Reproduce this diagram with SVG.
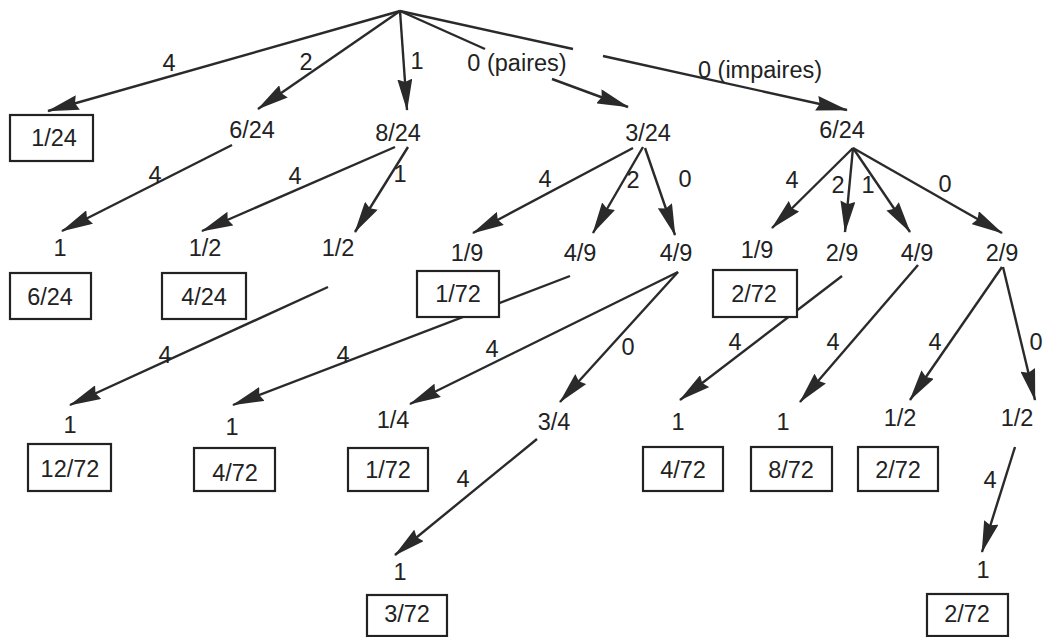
<svg xmlns="http://www.w3.org/2000/svg" width="1063" height="637" viewBox="0 0 1063 637">
<style>
text{font-family:"Liberation Sans",Arial,sans-serif;font-size:23.5px;fill:#222;text-anchor:middle}
.e{stroke:#2a2a2a;stroke-width:2.4;fill:none}
.a{marker-end:url(#ah)}
.b{fill:#fff;stroke:#222;stroke-width:2.2}
</style>
<defs>
<marker id="ah" viewBox="0 0 32 15" refX="31" refY="7.5" markerWidth="32" markerHeight="15" markerUnits="userSpaceOnUse" orient="auto">
<path d="M0,0 L32,7.5 L0,15 L3,7.5 z" fill="#2a2a2a"/>
</marker>
</defs>
<rect width="1063" height="637" fill="#fff"/>
<g id="connectors">
<line class="e a" x1="400" y1="11" x2="48" y2="111"/>
<line class="e a" x1="400" y1="11" x2="258" y2="109"/>
<line class="e a" x1="400" y1="11" x2="407" y2="110"/>
<line class="e" x1="400" y1="11" x2="485" y2="49"/>
<line class="e a" x1="552" y1="79" x2="628" y2="107"/>
<line class="e" x1="400" y1="11" x2="573" y2="49"/>
<line class="e a" x1="603" y1="56" x2="847" y2="110"/>
<line class="e a" x1="232" y1="145" x2="62" y2="231"/>
<line class="e a" x1="395" y1="147" x2="202" y2="231"/>
<line class="e a" x1="408" y1="147" x2="355" y2="232"/>
<line class="e a" x1="328" y1="287" x2="70" y2="405"/>
<line class="e a" x1="633" y1="148" x2="473" y2="233"/>
<line class="e a" x1="643" y1="147" x2="593" y2="233"/>
<line class="e a" x1="645" y1="148" x2="675" y2="235"/>
<line class="e a" x1="570" y1="276" x2="233" y2="405"/>
<line class="e a" x1="678" y1="272" x2="410" y2="404"/>
<line class="e a" x1="678" y1="272" x2="560" y2="402"/>
<line class="e a" x1="537" y1="439" x2="395" y2="555"/>
<line class="e a" x1="853" y1="148" x2="772" y2="228"/>
<line class="e a" x1="853" y1="148" x2="845" y2="232"/>
<line class="e a" x1="853" y1="148" x2="910" y2="232"/>
<line class="e a" x1="853" y1="148" x2="1002" y2="233"/>
<line class="e a" x1="842" y1="276" x2="680" y2="400"/>
<line class="e a" x1="918" y1="265" x2="800" y2="402"/>
<line class="e a" x1="1002" y1="267" x2="910" y2="400"/>
<line class="e a" x1="1003" y1="267" x2="1035" y2="400"/>
<line class="e a" x1="1015" y1="447" x2="982" y2="552"/>
<g id="edge-labels">
<text x="169" y="71">4</text>
<text x="306" y="70">2</text>
<text x="417" y="69">1</text>
<text x="517" y="71">0 (paires)</text>
<text x="760" y="78">0 (impaires)</text>
<text x="155" y="183">4</text>
<text x="295" y="184">4</text>
<text x="400" y="182">1</text>
<text x="545" y="187">4</text>
<text x="633" y="188">2</text>
<text x="685" y="187">0</text>
<text x="792" y="188">4</text>
<text x="838" y="193">2</text>
<text x="868" y="193">1</text>
<text x="945" y="192">0</text>
<text x="165" y="363">4</text>
<text x="343" y="363">4</text>
<text x="492" y="357">4</text>
<text x="628" y="355">0</text>
<text x="735" y="350">4</text>
<text x="833" y="350">4</text>
<text x="935" y="350">4</text>
<text x="1036" y="350">0</text>
<text x="463" y="487">4</text>
<text x="990" y="488">4</text>
</g>
</g>
<g id="n-1-24"><rect class="b" x="10" y="115" width="83" height="46"/><text x="54" y="146">1/24</text></g>
<g id="n-6-24a"><text x="252" y="138">6/24</text></g>
<g id="n-8-24"><text x="398" y="141">8/24</text></g>
<g id="n-3-24"><text x="648" y="141">3/24</text></g>
<g id="n-6-24b"><text x="842" y="138">6/24</text></g>
<g id="n-a1"><text x="60" y="256">1</text></g>
<g id="n-a1-box"><rect class="b" x="10" y="273" width="81" height="46"/><text x="50" y="305">6/24</text></g>
<g id="n-b12"><text x="205" y="256">1/2</text></g>
<g id="n-b12-box"><rect class="b" x="162" y="273" width="84" height="46"/><text x="204" y="305">4/24</text></g>
<g id="n-c12"><text x="338" y="256">1/2</text></g>
<g id="n-d19"><text x="467" y="261">1/9</text></g>
<g id="n-d19-box"><rect class="b" x="417" y="271" width="82" height="46"/><text x="458" y="302">1/72</text></g>
<g id="n-e49"><text x="580" y="261">4/9</text></g>
<g id="n-f49"><text x="676" y="261">4/9</text></g>
<g id="n-g19"><text x="757" y="258">1/9</text></g>
<g id="n-g19-box"><rect class="b" x="713" y="270" width="84" height="47"/><text x="754" y="302">2/72</text></g>
<g id="n-h29"><text x="842" y="261">2/9</text></g>
<g id="n-i49"><text x="917" y="261">4/9</text></g>
<g id="n-j29"><text x="1002" y="261">2/9</text></g>
<g id="n-c1"><text x="70" y="433">1</text></g>
<g id="n-c1-box"><rect class="b" x="28" y="444" width="83" height="47"/><text x="70" y="477">12/72</text></g>
<g id="n-e1"><text x="232" y="435">1</text></g>
<g id="n-e1-box"><rect class="b" x="194" y="448" width="81" height="43"/><text x="235" y="481">4/72</text></g>
<g id="n-f14"><text x="393" y="428">1/4</text></g>
<g id="n-f14-box"><rect class="b" x="348" y="448" width="80" height="43"/><text x="388" y="478">1/72</text></g>
<g id="n-f34"><text x="554" y="430">3/4</text></g>
<g id="n-h1"><text x="678" y="430">1</text></g>
<g id="n-h1-box"><rect class="b" x="643" y="447" width="80" height="44"/><text x="683" y="478">4/72</text></g>
<g id="n-i1"><text x="783" y="430">1</text></g>
<g id="n-i1-box"><rect class="b" x="751" y="447" width="81" height="44"/><text x="791" y="478">8/72</text></g>
<g id="n-j12a"><text x="900" y="426">1/2</text></g>
<g id="n-j12a-box"><rect class="b" x="858" y="447" width="80" height="44"/><text x="898" y="478">2/72</text></g>
<g id="n-j12b"><text x="1017" y="426">1/2</text></g>
<g id="n-k1"><text x="400" y="580">1</text></g>
<g id="n-k1-box"><rect class="b" x="367" y="595" width="80" height="41"/><text x="407" y="622">3/72</text></g>
<g id="n-l1"><text x="983" y="578">1</text></g>
<g id="n-l1-box"><rect class="b" x="927" y="594" width="81" height="42"/><text x="967" y="622">2/72</text></g>
</svg>
